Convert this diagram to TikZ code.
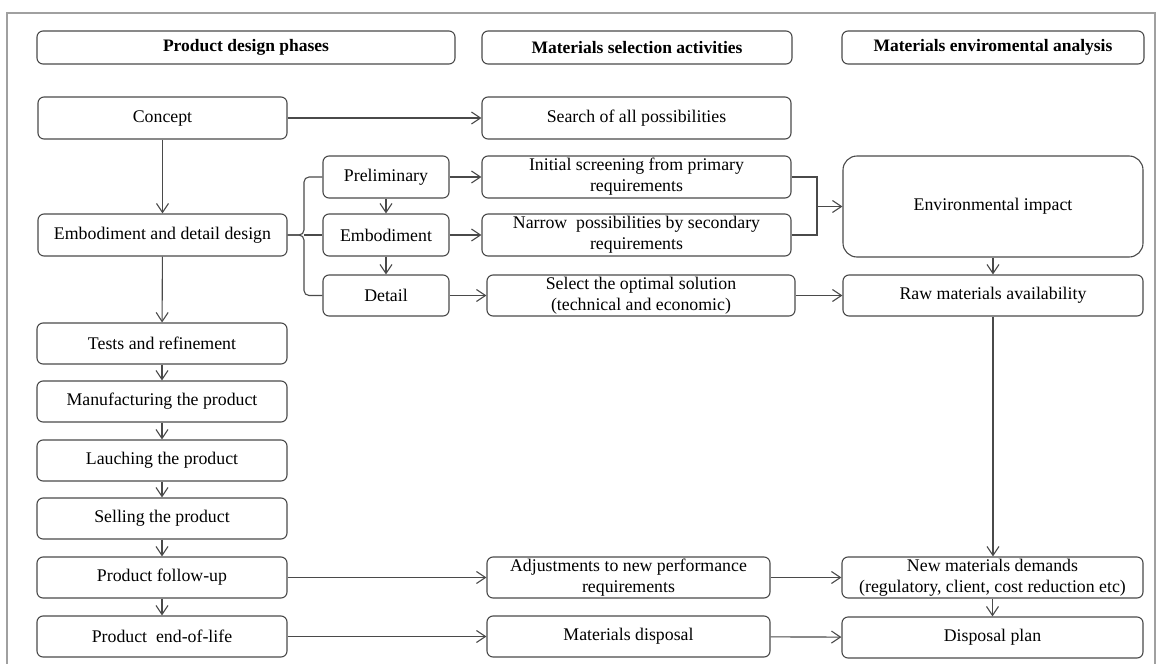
\documentclass[tikz,border=0pt]{standalone}
\usepackage{fontspec}
\setmainfont{Liberation Serif}
\usetikzlibrary{arrows.meta}
\definecolor{edge}{HTML}{4A4A4A}
\definecolor{frame}{HTML}{A0A0A0}
\begin{document}
\begin{tikzpicture}[x=1pt,y=-1pt,
  box/.style={draw=edge, line width=1.1pt, rounded corners=6pt, inner sep=0pt,
    align=center, font=\fontsize{17.8}{21}\selectfont, text=black},
  head/.style={box, font=\fontsize{17.5}{21}\selectfont\bfseries},
  conn/.style={draw=edge, line width=1.1pt},
  arr/.style={conn, -{Straight Barb[length=9pt,width=12pt,line width=1.1pt]}}
]
\useasboundingbox (0,0) rectangle (1160,664);
\fill[white] (0,0) rectangle (1160,664);
\draw[frame, line width=2pt] (7,664) -- (7,13) -- (1155,13) -- (1155,664);

% headers
\node[head, minimum width=418pt, minimum height=33pt] (h1) at (246,47.5) {Product design phases};
\node[head, minimum width=310pt, minimum height=33pt] (h2) at (637,47.5) {Materials selection activities};
\node[head, minimum width=302pt, minimum height=33pt] (h3) at (993,47.5) {Materials enviromental analysis};

% left column
\node[box, minimum width=249pt, minimum height=42pt] (concept) at (162.5,118) {Concept};
\node[box, minimum width=249pt, minimum height=42pt] (edd) at (162.5,235) {Embodiment and detail design};
\node[box, minimum width=250pt, minimum height=41pt] (tests) at (162,343.5) {Tests and refinement};
\node[box, minimum width=250pt, minimum height=41pt] (manuf) at (162,401.5) {Manufacturing the product};
\node[box, minimum width=250pt, minimum height=41pt] (launch) at (162,460.5) {Lauching the product};
\node[box, minimum width=250pt, minimum height=41pt] (sell) at (162,518.5) {Selling the product};
\node[box, minimum width=250pt, minimum height=41pt] (follow) at (162,577.5) {Product follow-up};
\node[box, minimum width=250pt, minimum height=41pt] (eol) at (162,636.5) {Product\ \ end-of-life};

% sub phases
\node[box, minimum width=126pt, minimum height=42pt] (prelim) at (386,177) {Preliminary};
\node[box, minimum width=126pt, minimum height=42pt] (emb) at (386,235) {Embodiment};
\node[box, minimum width=126pt, minimum height=41pt] (detail) at (386,295.5) {Detail};

% middle column
\node[box, minimum width=309pt, minimum height=42pt] (search) at (636.5,118) {Search of all possibilities};
\node[box, minimum width=309pt, minimum height=42pt] (initial) at (636.5,177) {Initial screening from primary\\requirements};
\node[box, minimum width=309pt, minimum height=42pt] (narrow) at (636.5,235) {Narrow\ \ possibilities by secondary\\requirements};
\node[box, minimum width=308pt, minimum height=41pt] (select) at (641,295.5) {Select the optimal solution\\(technical and economic)};
\node[box, minimum width=283pt, minimum height=41pt] (adjust) at (628.5,577.5) {Adjustments to new performance\\requirements};
\node[box, minimum width=283pt, minimum height=41pt] (matdisp) at (628.5,636.5) {Materials disposal};

% right column
\node[box, rounded corners=14pt, minimum width=300pt, minimum height=101pt] (env) at (993,206.5) {Environmental impact};
\node[box, minimum width=300pt, minimum height=41pt] (raw) at (993,295.5) {Raw materials availability};
\node[box, minimum width=301pt, minimum height=41pt] (newmat) at (992.5,577.5) {New materials demands\\(regulatory, client, cost reduction etc)};
\node[box, minimum width=301pt, minimum height=41pt] (dplan) at (992.5,637.5) {Disposal plan};

% left spine
\draw[arr] (concept) -- (edd);
\draw[arr] (edd) -- (tests);
\draw[arr] (tests) -- (manuf);
\draw[arr] (manuf) -- (launch);
\draw[arr] (launch) -- (sell);
\draw[arr] (sell) -- (follow);
\draw[arr] (follow) -- (eol);

% concept to search
\draw[arr] (concept) -- (search);

% bracket
\coordinate (br) at (304,235);
\draw[conn, rounded corners=5pt] (edd.east) -- (br) |- (prelim.west);
\draw[conn, rounded corners=5pt] (edd.east) -- (br) |- (detail.west);
\draw[conn] (br) -- (emb.west);

% sub phase chain
\draw[arr] (prelim) -- (emb);
\draw[arr] (emb) -- (detail);
\draw[arr] (prelim) -- (initial);
\draw[arr] (emb) -- (narrow);
\draw[arr] (detail) -- (select);

% merge to environmental impact
\coordinate (mg) at (817,206.5);
\draw[conn] (initial.east) -| (mg);
\draw[conn] (narrow.east) -| (mg);
\draw[arr] (mg) -- (env.west);

\draw[arr] (select) -- (raw);
\draw[arr] (env) -- (raw);
\draw[arr] (raw) -- (newmat.north -| raw.south);

\draw[arr] (follow) -- (adjust);
\draw[arr] (adjust) -- (newmat);
\draw[arr] (newmat) -- (dplan);
\draw[arr] (eol) -- (matdisp);
\draw[arr] (matdisp) -- (dplan);
\end{tikzpicture}
\end{document}
